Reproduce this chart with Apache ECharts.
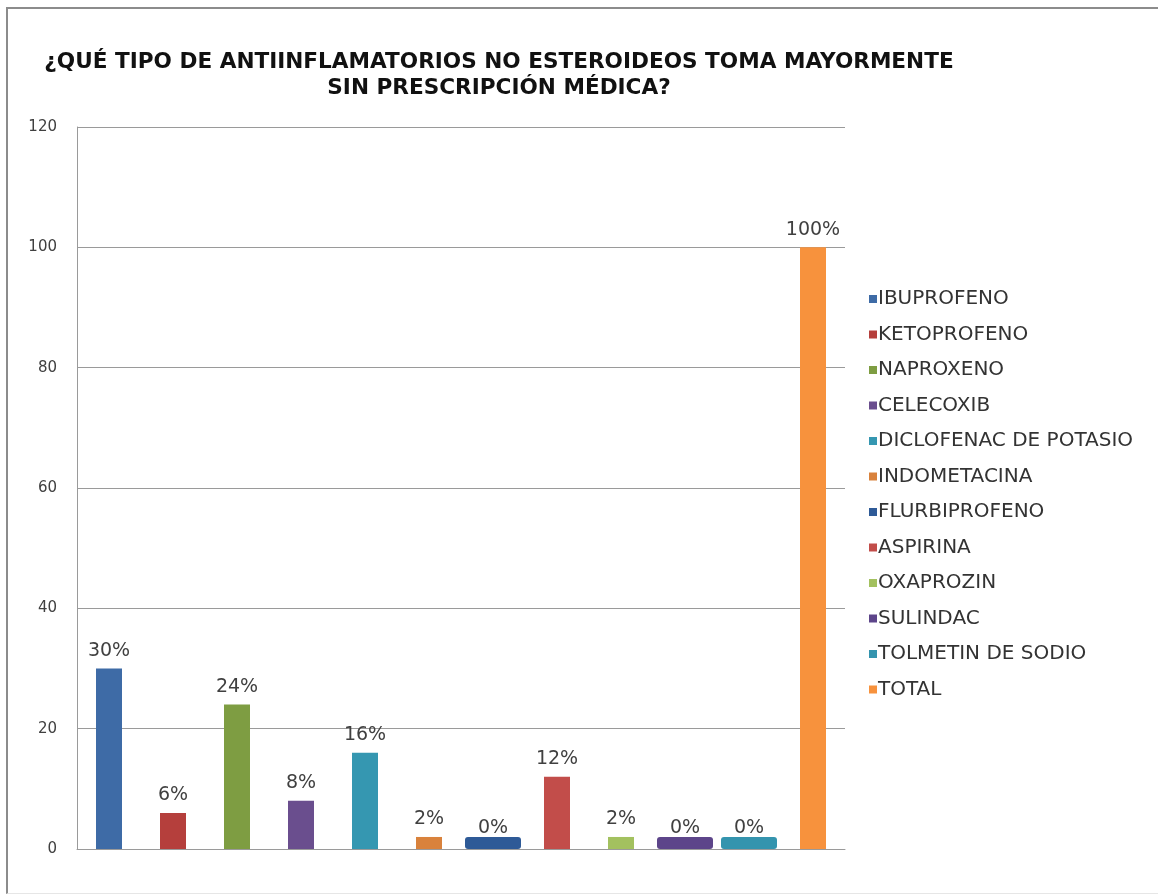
<!DOCTYPE html>
<html>
<head>
<meta charset="utf-8">
<script src="https://cdn.jsdelivr.net/npm/echarts@6/dist/echarts.min.js"></script>
<style>
  html, body { margin: 0; padding: 0; background: #fff; }
  #frame {
    position: absolute; left: 6px; top: 7px; width: 1160px; height: 884px;
    border-left: 2px solid #8c8c8c; border-top: 2px solid #8c8c8c;
    border-bottom: 1px solid #e6e6e6; pointer-events: none;
  }
  #chart { position: absolute; left: 0; top: 0; width: 1158px; height: 896px; }
</style>
</head>
<body>
<div id="chart"></div>
<div id="frame"></div>
<script>
// datos
const drugs = [
  'IBUPROFENO', 'KETOPROFENO', 'NAPROXENO', 'CELECOXIB', 'DICLOFENAC DE POTASIO',
  'INDOMETACINA', 'FLURBIPROFENO', 'ASPIRINA', 'OXAPROZIN', 'SULINDAC',
  'TOLMETIN DE SODIO', 'TOTAL'
]
const barValues = [30, 6, 24, 8, 16, 2, 2, 12, 2, 2, 2, 100]
const pctLabels = ['30%', '6%', '24%', '8%', '16%', '2%', '0%', '12%', '2%', '0%', '0%', '100%']
const colors = [
  '#3e6ba6', '#b53f3c', '#7e9d42', '#6a4e8e', '#3597b1', '#d9823c',
  '#2e5a97', '#c24d4a', '#a3c15f', '#5d458a', '#3494ae', '#f7923d'
]
const yTicks = { min: 0, max: 120, interval: 20 }

const titleLines = ['¿QUÉ TIPO DE ANTIINFLAMATORIOS NO ESTEROIDEOS TOMA MAYORMENTE', 'SIN PRESCRIPCIÓN MÉDICA?']

const chart = echarts.init(document.getElementById('chart'))

// las barras "0%" se dibujan anchas y bajas en el original
const isZero = (i) => pctLabels[i] === '0%'

const series = drugs.map((name, i) => ({
  name: name,
  type: 'bar',
  xAxisIndex: isZero(i) ? 1 : 0,
  barWidth: isZero(i) ? 56 : 26,
  barGap: '-100%',
  itemStyle: {
    color: colors[i],
    borderRadius: isZero(i) ? 3 : 0,
  },
  label: {
    show: true,
    position: 'top',
    distance: isZero(i) ? -1 : 8,
    formatter: () => pctLabels[i],
    color: '#404040',
    fontFamily: 'DejaVu Sans',
    fontSize: 19,
  },
  data: drugs.map((d, j) => (j === i ? barValues[i] : null)),
}))

const catAxis = (show) => ({
  type: 'category',
  data: drugs,
  show: show,
  axisLine: { show: true, lineStyle: { color: '#9a9a9a', width: 1 } },
  axisTick: { show: false },
  axisLabel: { show: false },
})

chart.setOption({
  animation: false,
  graphic: [
    {
      type: 'text',
      x: 499,
      y: 49,
      style: {
        text: titleLines.join('\n'),
        x: 0,
        y: 0,
        align: 'center',
        fill: '#111',
        font: 'bold 21.6px "DejaVu Sans"',
        lineHeight: 26,
      },
    },
  ],
  legend: {
    orient: 'vertical',
    left: 864,
    top: 284,
    icon: 'rect',
    itemWidth: 8,
    itemHeight: 8,
    itemGap: 15.5,
    textStyle: {
      color: '#333',
      fontFamily: 'DejaVu Sans',
      fontSize: 20,
      lineHeight: 20,
      padding: [0, 0, 0, -4],
    },
    data: drugs,
  },
  grid: {
    left: 77,
    right: 313,
    top: 127,
    bottom: 47,
  },
  xAxis: [catAxis(true), catAxis(false)],
  yAxis: {
    type: 'value',
    min: yTicks.min,
    max: yTicks.max,
    interval: yTicks.interval,
    axisLine: { show: true, lineStyle: { color: '#9a9a9a' } },
    axisTick: { show: false },
    axisLabel: {
      margin: 20,
      color: '#404040',
      fontFamily: 'DejaVu Sans',
      fontSize: 15,
    },
    splitLine: { lineStyle: { color: '#9a9a9a', width: 1 } },
  },
  series: series,
})

window.addEventListener('resize', () => chart.resize())
</script>
</body>
</html>
